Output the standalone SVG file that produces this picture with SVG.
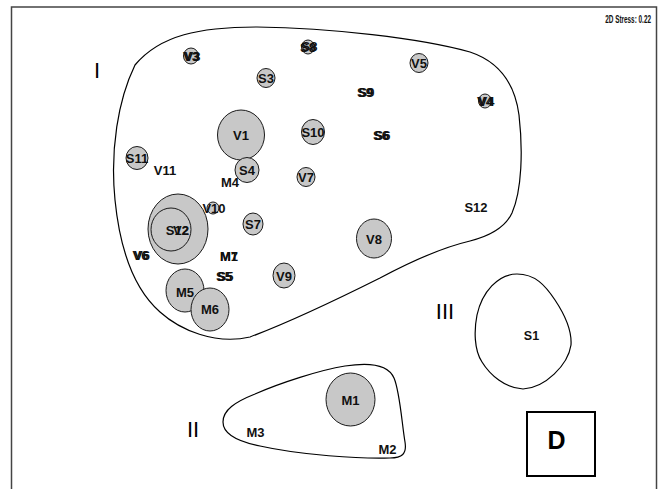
<svg xmlns="http://www.w3.org/2000/svg" width="671" height="489" viewBox="0 0 671 489">
<style>
  .pt{fill:#c8c8c8;stroke:#1a1a1a;stroke-width:1}
  .hull{fill:none;stroke:#000;stroke-width:1.2}
  .lb{font-family:"Liberation Sans",Arial,sans-serif;font-weight:bold;font-size:13px;fill:#111;text-anchor:middle}
  .rn{font-family:"Liberation Sans",Arial,sans-serif;font-size:22px;fill:#000;text-anchor:middle}
</style>
<rect x="0" y="0" width="671" height="489" fill="#fff"/>
<rect x="11.5" y="7" width="645" height="500" fill="none" stroke="#444" stroke-width="1.5"/>
<text transform="translate(651,23) scale(0.64,1)" font-family="'Liberation Sans',Arial,sans-serif" font-weight="bold" font-size="10" text-anchor="end" fill="#111">2D Stress: 0.22</text>

<g id="hulls">
  <path id="hull-I" class="hull" d="M 257,27 C 330,28 420,38 470,52 C 500,62 515,85 519,115 C 523,150 522,190 512,213 C 505,228 490,236 470,241 C 440,248 410,262 380,278 C 340,298 290,322 250,337 C 215,345 180,330 160,312 C 135,290 120,250 115,200 C 110,150 118,100 135,65 C 160,35 200,27 257,27 Z"/>
  <path id="hull-II" class="hull" d="M 223,422 C 223,410 235,402 255,394 C 280,383 320,370 345,366 C 370,362 388,364 394,378 C 400,392 402,425 405,442 C 407,454 402,458 390,458 C 360,459 300,455 260,446 C 240,442 223,435 223,422 Z"/>
  <path id="hull-III" class="hull" d="M 517,274 C 535,274 545,285 555,300 C 565,315 572,330 571,345 C 568,365 545,388 523,389 C 505,388 490,375 482,362 C 474,350 474,330 477,315 C 482,292 498,274 517,274 Z"/>
</g>

<text class="rn" x="97" y="78">I</text>
<text class="rn" x="193" y="437">II</text>
<text class="rn" x="445" y="319">III</text>

<g id="n-V3"><ellipse class="pt" cx="191" cy="56" rx="7.5" ry="8"/><text class="lb" x="191" y="61">V3</text><text class="lb" x="192.5" y="61">V3</text></g>
<g id="n-S8"><ellipse class="pt" cx="308" cy="47" rx="6.5" ry="7"/><text class="lb" x="308" y="52">S8</text><text class="lb" x="309.5" y="51">S8</text></g>
<g id="n-S3"><ellipse class="pt" cx="266" cy="78" rx="9" ry="9.5"/><text class="lb" x="266" y="83">S3</text></g>
<g id="n-V5"><ellipse class="pt" cx="419" cy="63" rx="9" ry="9.5"/><text class="lb" x="419" y="68">V5</text></g>
<g id="n-S9"><text class="lb" x="365" y="97">S9</text><text class="lb" x="366.5" y="97">S9</text></g>
<g id="n-V4"><ellipse class="pt" cx="485" cy="101" rx="6.5" ry="7"/><text class="lb" x="485" y="106">V4</text><text class="lb" x="486.5" y="106">V4</text></g>
<g id="n-V1"><ellipse class="pt" cx="241" cy="135" rx="23.5" ry="25"/><text class="lb" x="241" y="140">V1</text></g>
<g id="n-S10"><ellipse class="pt" cx="313" cy="132" rx="11.5" ry="12.5"/><text class="lb" x="313" y="137">S10</text></g>
<g id="n-S6"><text class="lb" x="381" y="140">S6</text><text class="lb" x="382.5" y="140">S6</text></g>
<g id="n-S11"><ellipse class="pt" cx="137" cy="158" rx="11" ry="11.5"/><text class="lb" x="137" y="163">S11</text></g>
<g id="n-V11"><text class="lb" x="165" y="175">V11</text></g>
<g id="n-S4"><ellipse class="pt" cx="247" cy="170" rx="12" ry="12.5"/><text class="lb" x="247" y="175">S4</text></g>
<g id="n-M4"><text class="lb" x="230" y="187">M4</text></g>
<g id="n-V7"><ellipse class="pt" cx="306" cy="177" rx="9" ry="9.5"/><text class="lb" x="306" y="182">V7</text></g>
<g id="n-V10"><ellipse class="pt" cx="213" cy="208" rx="6" ry="6"/><text class="lb" x="214" y="213">V10</text></g>
<g id="n-S12"><text class="lb" x="476" y="212">S12</text></g>
<g id="n-S7"><ellipse class="pt" cx="253" cy="224" rx="10" ry="11"/><text class="lb" x="253" y="229">S7</text></g>
<g id="n-big"><ellipse class="pt" cx="178" cy="229" rx="30" ry="35"/><ellipse class="pt" cx="171" cy="229.5" rx="20" ry="21.5"/><text class="lb" x="189" y="235" style="text-anchor:end">S12</text><text class="lb" x="189" y="235" style="text-anchor:end">V2</text></g>
<g id="n-V8"><ellipse class="pt" cx="374" cy="238.5" rx="17.5" ry="19.5"/><text class="lb" x="374" y="244">V8</text></g>
<g id="n-V6"><text class="lb" x="140.5" y="260">V6</text><text class="lb" x="142" y="260">V6</text></g>
<g id="n-M7"><text class="lb" x="229" y="261">M1</text><text class="lb" x="229" y="261">M7</text></g>
<g id="n-S5"><text class="lb" x="224" y="281">S5</text><text class="lb" x="225.5" y="281">S5</text></g>
<g id="n-V9"><ellipse class="pt" cx="284" cy="275.5" rx="11" ry="12.5"/><text class="lb" x="284" y="281">V9</text></g>
<g id="n-M5"><ellipse class="pt" cx="185" cy="290.5" rx="19" ry="21.5"/><text class="lb" x="185" y="297">M5</text></g>
<g id="n-M6"><ellipse class="pt" cx="210" cy="309.5" rx="19" ry="21.5"/><text class="lb" x="210" y="314">M6</text></g>
<g id="n-M1"><ellipse class="pt" cx="350.5" cy="399.5" rx="24.5" ry="26.5"/><text class="lb" x="350.5" y="405">M1</text></g>
<g id="n-M3"><text class="lb" x="255.5" y="437">M3</text></g>
<g id="n-M2"><text class="lb" x="387.5" y="454">M2</text></g>
<g id="n-S1"><text class="lb" x="531.5" y="340" style="font-size:12.5px">S1</text></g>

<g id="legend-D"><rect x="527" y="412" width="68" height="64" fill="none" stroke="#000" stroke-width="2"/><text x="556.5" y="449" font-family="'Liberation Sans',Arial,sans-serif" font-weight="bold" font-size="25" text-anchor="middle" fill="#000">D</text></g>
</svg>
